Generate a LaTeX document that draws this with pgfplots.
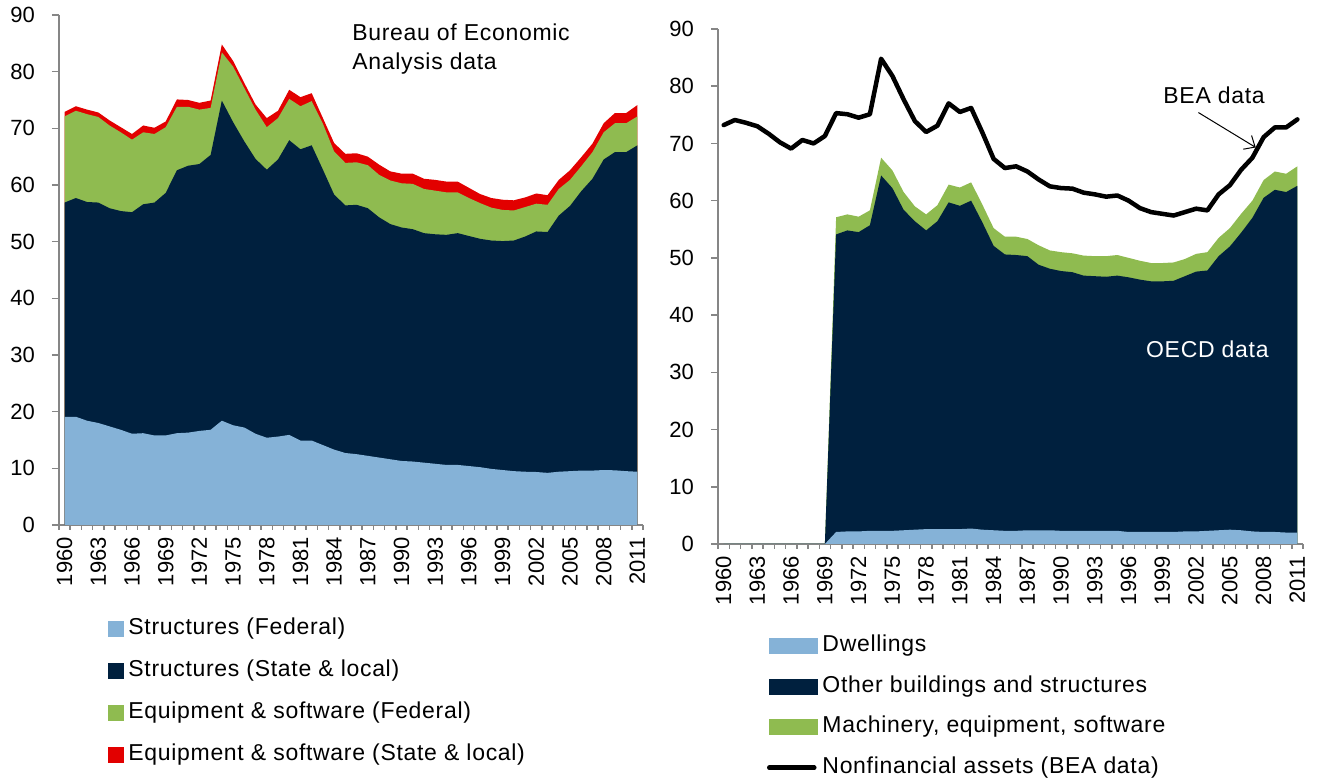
\documentclass[border=0pt]{standalone}
\usepackage{fontspec}
\setmainfont{Liberation Sans}
\newfontfamily\txtfont[LetterSpace=3]{Liberation Sans}
\usepackage{pgfplots}
\usepackage{pgfplotstable}
\pgfplotsset{compat=1.18}
\usetikzlibrary{arrows.meta}
\definecolor{lblue}{RGB}{133,178,215}
\definecolor{navy}{RGB}{0,32,62}
\definecolor{lgreen}{RGB}{143,187,80}
\definecolor{bred}{RGB}{226,0,0}
\definecolor{axgray}{RGB}{134,134,134}

% cumulative tops of the stacked areas (BEA data)
\pgfplotstableread{
i L1 L2 L3 L4
0 19.1 56.9 72.1 72.9
1 19.1 57.7 73.1 73.9
2 18.4 57.0 72.5 73.3
3 18.0 56.9 72.0 72.8
4 17.4 55.9 70.5 71.4
5 16.8 55.4 69.3 70.2
6 16.1 55.2 68.0 69.0
7 16.2 56.6 69.3 70.5
8 15.8 56.9 69.0 70.1
9 15.8 58.6 70.2 71.2
10 16.2 62.6 73.8 75.1
11 16.3 63.4 73.8 75.0
12 16.6 63.7 73.3 74.5
13 16.8 65.3 73.6 74.9
14 18.4 74.9 83.4 84.8
15 17.6 71.1 80.9 81.9
16 17.2 67.7 77.1 78.0
17 16.1 64.6 73.3 74.2
18 15.4 62.7 70.2 71.8
19 15.6 64.5 71.8 73.1
20 15.9 67.9 75.2 76.8
21 14.9 66.3 73.9 75.5
22 14.9 67.0 74.8 76.2
23 14.1 62.7 70.8 71.8
24 13.3 58.3 65.9 67.4
25 12.7 56.4 63.9 65.5
26 12.5 56.5 64.0 65.6
27 12.2 55.9 63.5 65.0
28 11.9 54.3 61.8 63.6
29 11.6 53.1 60.8 62.4
30 11.3 52.5 60.3 62.0
31 11.2 52.2 60.2 62.0
32 11.0 51.5 59.3 61.1
33 10.8 51.3 59.0 60.9
34 10.6 51.2 58.7 60.6
35 10.6 51.5 58.7 60.6
36 10.4 51.0 57.7 59.5
37 10.2 50.5 56.8 58.4
38 9.9 50.2 56.0 57.7
39 9.7 50.1 55.6 57.4
40 9.5 50.2 55.5 57.3
41 9.4 50.9 56.1 57.8
42 9.35 51.8 56.7 58.5
43 9.2 51.7 56.5 58.2
44 9.4 54.6 59.3 60.9
45 9.5 56.3 60.9 62.6
46 9.6 58.9 63.3 64.9
47 9.6 61.1 65.8 67.3
48 9.7 64.5 69.3 70.9
49 9.65 65.8 70.9 72.7
50 9.5 65.8 70.9 72.7
51 9.4 67.0 72.1 74.1
}\leftdata

% OECD cumulative tops and BEA line
\pgfplotstableread{
i D T2 T3 B
0 0 0 0 73.2
1 0 0 0 74.1
2 0 0 0 73.6
3 0 0 0 73.0
4 0 0 0 71.7
5 0 0 0 70.2
6 0 0 0 69.1
7 0 0 0 70.6
8 0 0 0 70.0
9 0 0 0 71.3
10 2.1 54.1 57.1 75.3
11 2.2 54.8 57.6 75.1
12 2.2 54.5 57.2 74.5
13 2.3 55.7 58.3 75.1
14 2.3 64.4 67.5 84.8
15 2.3 62.2 65.3 81.8
16 2.4 58.4 61.5 77.7
17 2.5 56.4 59.0 73.9
18 2.6 54.8 57.6 72.0
19 2.6 56.4 59.2 73.1
20 2.6 59.7 62.8 77.0
21 2.6 59.1 62.3 75.5
22 2.7 60.0 63.2 76.2
23 2.5 56.2 59.3 71.9
24 2.4 52.1 55.2 67.3
25 2.3 50.6 53.7 65.7
26 2.3 50.5 53.7 66.0
27 2.4 50.3 53.3 65.1
28 2.4 48.8 52.2 63.7
29 2.4 48.1 51.3 62.5
30 2.3 47.7 51.0 62.2
31 2.3 47.5 50.8 62.1
32 2.3 46.9 50.4 61.4
33 2.3 46.8 50.3 61.1
34 2.3 46.7 50.3 60.7
35 2.3 46.9 50.5 60.9
36 2.1 46.6 50.0 60.0
37 2.1 46.2 49.5 58.7
38 2.1 45.9 49.1 58.0
39 2.1 45.9 49.1 57.7
40 2.1 46.0 49.2 57.4
41 2.2 46.8 49.8 58.0
42 2.2 47.6 50.7 58.6
43 2.3 47.8 51.0 58.3
44 2.4 50.3 53.5 61.1
45 2.5 52.0 55.2 62.7
46 2.4 54.4 57.7 65.4
47 2.2 57.0 60.0 67.5
48 2.1 60.5 63.6 71.1
49 2.1 61.9 65.1 72.8
50 2.0 61.5 64.7 72.8
51 2.0 62.6 66.0 74.2
}\rightdata

\pgfplotsset{
  common/.style={
    scale only axis,
    axis x line*=bottom, axis y line*=left,
    axis line style={axgray, line width=1.5pt, -},
    xmin=-0.5, xmax=51.5, ymin=0, ymax=90,
    ytick={0,10,...,90},
    xtick={0,3,...,51},
    xticklabels={1960,1963,1966,1969,1972,1975,1978,1981,1984,1987,1990,1993,1996,1999,2002,2005,2008,2011},
    minor xtick={-0.5,0.5,...,51.5},
    tick align=outside,
    major tick length=7pt, minor tick length=5pt,
    tick style={axgray, line width=1.5pt},
    major x tick style={draw=none},
    /pgf/number format/assume math mode=true,
    tick label style={font=\fontsize{22}{26}\selectfont},
    yticklabel style={anchor=east, inner sep=0pt, xshift=-17pt},
    xticklabel style={yshift=-5pt, rotate=90, anchor=east, inner sep=0pt},
    legend cell align=left,
    legend style={draw=none, fill=none, anchor=north west, inner sep=0pt, outer sep=0pt,
      font=\txtfont\fontsize{23}{27}\selectfont, row sep=20.5pt, column sep=5pt,
      nodes={inner sep=0pt, text height=16pt, text depth=5pt}},
  }
}

\begin{document}
\begin{tikzpicture}
\useasboundingbox (0pt,0pt) rectangle (1320pt,781pt);
% ---------------- left panel ----------------
\begin{axis}[common, at={(59pt,256pt)}, anchor=south west, width=584pt, height=510pt,
  legend style={at={(0.0839,-0.183)}, row sep=21pt}]
\addplot[fill=bred, draw=none, forget plot] table[x=i, y=L4] {\leftdata} \closedcycle;
\addplot[fill=lgreen, draw=none, forget plot] table[x=i, y=L3] {\leftdata} \closedcycle;
\addplot[fill=navy, draw=none, forget plot] table[x=i, y=L2] {\leftdata} \closedcycle;
\addplot[fill=lblue, draw=none, forget plot] table[x=i, y=L1] {\leftdata} \closedcycle;
\addlegendimage{legend image code/.code={\fill[lblue] (0pt,-7.5pt) rectangle (15pt,7.5pt);}}
\addlegendentry{Structures (Federal)}
\addlegendimage{legend image code/.code={\fill[navy] (0pt,-7.5pt) rectangle (15pt,7.5pt);}}
\addlegendentry{Structures (State \& local)}
\addlegendimage{legend image code/.code={\fill[lgreen] (0pt,-7.5pt) rectangle (15pt,7.5pt);}}
\addlegendentry{Equipment \& software (Federal)}
\addlegendimage{legend image code/.code={\fill[bred] (0pt,-7.5pt) rectangle (15pt,7.5pt);}}
\addlegendentry{Equipment \& software (State \& local)}
\node[anchor=north west, align=left, inner sep=0pt, font=\txtfont\fontsize{23}{29}\selectfont]
  at (axis cs:25.6,88.4) {Bureau of Economic\\Analysis data};
\end{axis}
% ---------------- right panel ----------------
\begin{axis}[common, at={(718pt,237pt)}, anchor=south west, width=585pt, height=515pt,
  legend style={at={(0.0838,-0.178)}, row sep=19.5pt}]
\addplot[fill=lgreen, draw=none, forget plot] table[x=i, y=T3] {\rightdata} \closedcycle;
\addplot[fill=navy, draw=none, forget plot] table[x=i, y=T2] {\rightdata} \closedcycle;
\addplot[fill=lblue, draw=none, forget plot] table[x=i, y=D] {\rightdata} \closedcycle;
\addplot[black, line width=4.5pt, line join=round, line cap=round, forget plot] table[x=i, y=B] {\rightdata};
\addlegendimage{legend image code/.code={\fill[lblue] (0pt,-7.5pt) rectangle (48pt,7.5pt);}}
\addlegendentry{Dwellings}
\addlegendimage{legend image code/.code={\fill[navy] (0pt,-7.5pt) rectangle (48pt,7.5pt);}}
\addlegendentry{Other buildings and structures}
\addlegendimage{legend image code/.code={\fill[lgreen] (0pt,-7.5pt) rectangle (48pt,7.5pt);}}
\addlegendentry{Machinery, equipment, software}
\addlegendimage{legend image code/.code={\draw[black, line width=4.5pt, line cap=round] (0pt,0pt) -- (45pt,0pt);}}
\addlegendentry{Nonfinancial assets (BEA data)}
\node[font=\txtfont\fontsize{23}{27}\selectfont, inner sep=0pt] at (axis cs:43.6,78.4) {BEA data};
\draw[line width=1pt, -{Straight Barb[length=9pt, width=16pt]}] (axis cs:42.2,75.4) -- (axis cs:47.3,69.3);
\node[font=\txtfont\fontsize{23}{27}\selectfont, inner sep=0pt, text=white] at (axis cs:43.0,34.1) {OECD data};
\end{axis}
\end{tikzpicture}
\end{document}
